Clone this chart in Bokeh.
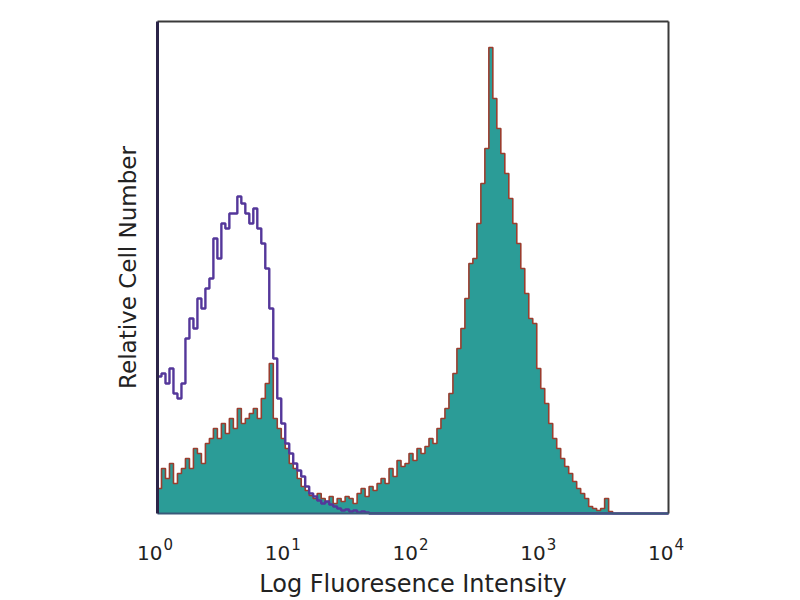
import numpy as np
from bokeh.plotting import figure
from bokeh.models import Range1d
from bokeh.embed import file_html
from bokeh.resources import INLINE

# Histogram channels: 32 channels per decade over 10^0 .. 10^4
channels_per_decade = 32
n_channels = 128

# Isotype control (open purple histogram), relative counts per channel
control_counts = [137, 140, 130, 145, 120, 115, 130, 175, 195, 185,
                  215, 205, 225, 235, 275, 255, 290, 285, 300, 300,
                  317, 310, 300, 290, 305, 285, 270, 245, 205, 155,
                  115, 90, 70, 60, 50, 43, 37, 27, 20, 17,
                  13, 10, 12, 9, 7, 5, 3, 4, 2, 3,
                  1, 2, 1] + [0] * 75

# Stained sample (filled teal histogram, dark red outline)
stained_counts = [25, 45, 35, 50, 30, 40, 45, 55, 45, 65,
                  60, 50, 70, 75, 85, 75, 90, 80, 95, 85,
                  105, 90, 95, 100, 105, 95, 115, 130, 150, 95,
                  85, 75, 65, 50, 45, 35, 27, 23, 18, 15,
                  20, 15, 12, 17, 10, 15, 12, 17, 15, 10,
                  20, 25, 17, 27, 23, 30, 35, 30, 45, 37,
                  53, 47, 50, 60, 53, 65, 60, 67, 75, 70,
                  85, 95, 105, 120, 140, 165, 185, 215, 250, 255,
                  290, 330, 365, 466, 415, 385, 360, 340, 315, 290,
                  270, 245, 220, 195, 190, 145, 125, 110, 90, 75,
                  65, 55, 47, 40, 32, 25, 20, 15, 7, 5,
                  3, 5, 15, 2] + [0] * 14

tick_values = [1, 10, 100, 1000, 10000]
tick_bases = ["10", "10", "10", "10", "10"]
tick_exponents = ["0", "1", "2", "3", "4"]
x_title = "Log Fluoresence Intensity"
y_title = "Relative Cell Number"

# plot box in data units
x_lo, x_hi = 1, 10000
y_top = 492
# pixel layout of the box and the room around it for labels
box_w = 511
pad_left, pad_right, pad_top, pad_bottom = 60, 40, 3, 85
px_per_decade = box_w / np.log10(x_hi / x_lo)

font = "DejaVu Sans"
text_col = "#222222"

edges = 10.0 ** (np.arange(n_channels + 1) / channels_per_decade)
stained_y = list(stained_counts) + [stained_counts[-1]]
control_y = list(control_counts) + [control_counts[-1]]

p = figure(x_axis_type="log",
           x_range=Range1d(x_lo * 10 ** (-pad_left / px_per_decade),
                           x_hi * 10 ** (pad_right / px_per_decade)),
           y_range=Range1d(-pad_bottom, y_top + pad_top),
           frame_width=box_w + pad_left + pad_right,
           frame_height=y_top + pad_top + pad_bottom,
           min_border_left=157 - pad_left, min_border_top=21 - pad_top,
           min_border_right=0, min_border_bottom=0,
           output_backend="svg", toolbar_location=None)

p.xgrid.visible = False
p.ygrid.visible = False
p.xaxis.visible = False
p.yaxis.visible = False
p.outline_line_color = None

# stained: teal fill + dark red outline
p.varea_step(x=list(edges), y1=[0] * len(edges), y2=stained_y, step_mode="after",
             fill_color="#2b9c97")
p.step(x=list(edges), y=stained_y, mode="after",
       line_color="#9a3d2e", line_width=1.6)
# control: purple open histogram
p.step(x=list(edges), y=control_y, mode="after",
       line_color="#54379a", line_width=2.4)

# plot box
p.segment(x0=[x_lo, x_hi], y0=[y_top, 0], x1=[x_hi, x_hi], y1=[y_top, y_top],
          line_color="#3a3a3a", line_width=2)
p.segment(x0=[x_lo], y0=[0], x1=[x_hi], y1=[0], line_color="#3a5a7a", line_width=2)
p.segment(x0=[x_lo], y0=[0], x1=[x_lo], y1=[y_top], line_color="#2b2448", line_width=3)

# tick labels 10^n
p.text(x=tick_values, y=[-39] * len(tick_values), text=tick_bases,
       x_offset=5, text_align="right", text_baseline="alphabetic",
       text_font={"value": font}, text_font_size="20px", text_color=text_col)
p.text(x=tick_values, y=[-30] * len(tick_values), text=tick_exponents,
       x_offset=6, text_align="left", text_baseline="alphabetic",
       text_font={"value": font}, text_font_size="15px", text_color=text_col)

# axis titles
p.text(x=[10 ** (np.log10(x_lo * x_hi) / 2)], y=[-70], text=[x_title],
       text_align="center", text_baseline="alphabetic",
       text_font={"value": font}, text_font_size="24px", text_color=text_col)
p.text(x=[x_lo], y=[y_top / 2], text=[y_title], x_offset=-30, angle=np.pi / 2,
       text_align="center", text_baseline="middle",
       text_font={"value": font}, text_font_size="23px", text_color=text_col)

open("out.html", "w").write(file_html(p, INLINE))
